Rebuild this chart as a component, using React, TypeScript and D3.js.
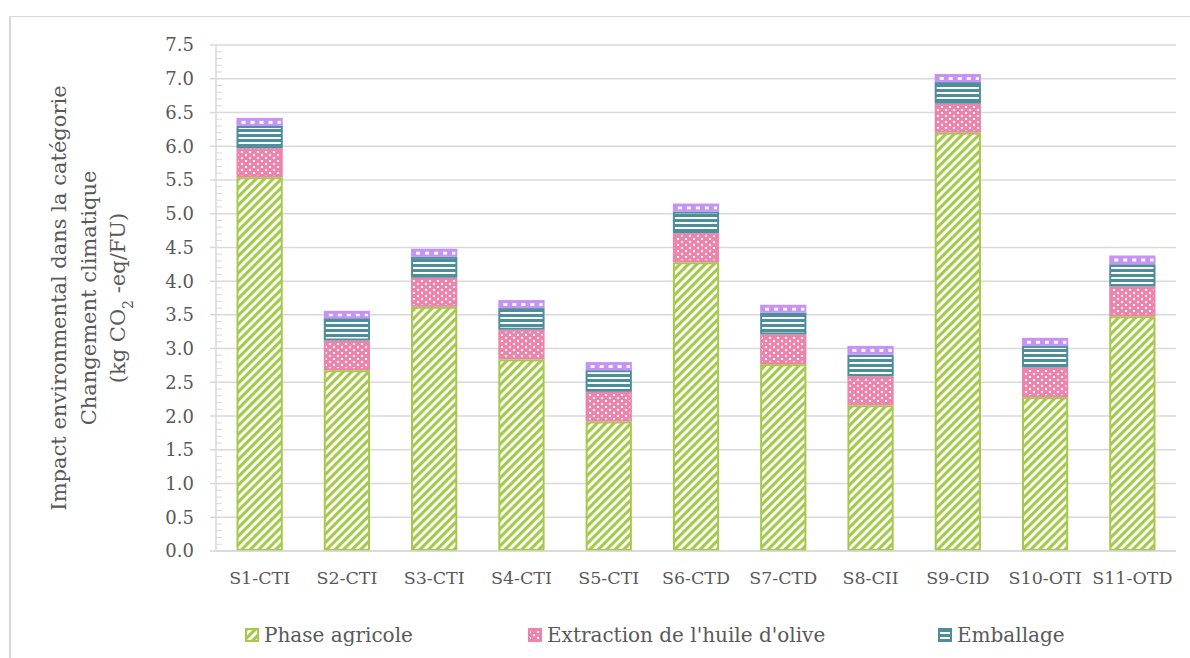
import React from "react";
import * as d3 from "d3";

const categories = ["S1-CTI", "S2-CTI", "S3-CTI", "S4-CTI", "S5-CTI", "S6-CTD", "S7-CTD", "S8-CII", "S9-CID", "S10-OTI", "S11-OTD"];
const phaseAgricole = [5.54, 2.68, 3.62, 2.84, 1.92, 4.28, 2.77, 2.16, 6.2, 2.28, 3.48];
const extraction = [0.43, 0.44, 0.43, 0.44, 0.44, 0.43, 0.44, 0.43, 0.43, 0.44, 0.44];
const emballage = [0.33, 0.33, 0.31, 0.32, 0.32, 0.32, 0.32, 0.32, 0.32, 0.32, 0.33];
const autre = [0.12, 0.11, 0.12, 0.12, 0.12, 0.12, 0.12, 0.13, 0.12, 0.12, 0.13];
const yTicks = ["0.0", "0.5", "1.0", "1.5", "2.0", "2.5", "3.0", "3.5", "4.0", "4.5", "5.0", "5.5", "6.0", "6.5", "7.0", "7.5"];
const legendNames = ["Phase agricole", "Extraction de l'huile d'olive", "Emballage"];

const colors = ["#a6c84c", "#ee83ab", "#4e8e9c", "#c693f5"];
const FONT = "'DejaVu Serif', serif";
const TEXT = "#595959";

export default function App() {
  const W = 1190, H = 658;
  const x0 = 216, x1 = 1176, yTop = 45, yBot = 551;
  const y = d3.scaleLinear().domain([0, 7.5]).range([yBot, yTop]);
  const x = d3.scaleBand<string>().domain(categories).range([x0, x1]).paddingInner(0.47).paddingOuter(0.235);

  const rows = categories.map((c, i) => ({ cat: c, s0: phaseAgricole[i], s1: extraction[i], s2: emballage[i], s3: autre[i] }));
  const stack = d3.stack<any>().keys(["s0", "s1", "s2", "s3"])(rows);

  const majors = yTicks.map(Number);
  const minors = d3.range(0, 75).map((k) => k / 10).filter((v) => Math.round(v * 10) % 5 !== 0);

  const patIds = ["patGreen", "patPink", "patTeal", "patPurple"];

  const legendX = [245, 528, 938];
  const legendY = 635;

  const purpleLayer = stack[3];

  return (
    <div style={{ position: "absolute", left: 0, top: 0, width: W, height: H }}>
      <svg width={W} height={H} style={{ display: "block", background: "#fff" }}>
        <defs>
          <pattern id="patGreen" patternUnits="userSpaceOnUse" width={6} height={6} patternTransform="rotate(45)">
            <rect width={6} height={6} fill="#fff" />
            <rect width={3.2} height={6} fill={colors[0]} />
          </pattern>
          <pattern id="patPink" patternUnits="userSpaceOnUse" width={8} height={6}>
            <rect width={8} height={6} fill={colors[1]} />
            <rect x={1} y={1} width={2} height={2} fill="#fff" />
            <rect x={5} y={4} width={2} height={2} fill="#fff" />
          </pattern>
          <pattern id="patTeal" patternUnits="userSpaceOnUse" width={6} height={5}>
            <rect width={6} height={5} fill={colors[2]} />
            <rect y={2} width={6} height={2} fill="#fff" />
          </pattern>
          {purpleLayer.map((d, i) => (
            <pattern key={"pp" + i} id={"patPurple" + i} patternUnits="userSpaceOnUse" width={9} height={40}
              x={(x(categories[i]) as number) + 2} y={y(d[1]) + 3}>
              <rect width={9} height={40} fill={colors[3]} />
              <rect x={3} y={0} width={4} height={3} fill="#fff" />
            </pattern>
          ))}
          <pattern id="patPurpleL" patternUnits="userSpaceOnUse" width={9} height={40} x={legendX[0]} y={legendY - 3}>
            <rect width={9} height={40} fill={colors[3]} />
          </pattern>
        </defs>

        {/* outer frame */}
        <line x1={10} x2={W} y1={16.5} y2={16.5} stroke="#d9d9d9" strokeWidth={1} />
        <line x1={10} x2={10} y1={16} y2={H} stroke="#d9d9d9" strokeWidth={2} />

        {/* gridlines */}
        {majors.map((v) => (
          <line key={"g" + v} x1={210} x2={x1} y1={y(v)} y2={y(v)} stroke="#d9d9d9" strokeWidth={1.5} />
        ))}
        {/* minor ticks */}
        {minors.map((v) => (
          <line key={"m" + v} x1={x0} x2={x0 + 6} y1={y(v)} y2={y(v)} stroke="#d9d9d9" strokeWidth={1} />
        ))}
        <line x1={x0} x2={x0} y1={yTop} y2={yBot} stroke="#d9d9d9" strokeWidth={1.5} />

        {/* bars */}
        {stack.map((layer, si) =>
          layer.map((d, i) => {
            const top = y(d[1]);
            const bot = y(d[0]);
            const fill = si === 3 ? `url(#patPurple${i})` : `url(#${patIds[si]})`;
            return (
              <rect
                key={si + "-" + i}
                x={(x(categories[i]) as number) + 1}
                y={top + 1}
                width={x.bandwidth() - 2}
                height={Math.max(0, bot - top - 2)}
                fill={fill}
                stroke={colors[si]}
                strokeWidth={2}
              />
            );
          })
        )}

        {/* baseline */}
        <line x1={x0} x2={x1} y1={yBot} y2={yBot} stroke="#d9d9d9" strokeWidth={1.5} />

        {/* y tick labels */}
        {yTicks.map((t) => (
          <text key={"t" + t} x={194} y={y(Number(t))} dy="0.36em" textAnchor="end" fontFamily={FONT} fontSize={18} fill={TEXT}>
            {t}
          </text>
        ))}

        {/* x labels */}
        {categories.map((c) => (
          <text key={"x" + c} x={(x(c) as number) + x.bandwidth() / 2} y={578} dy="0.36em" textAnchor="middle" fontFamily={FONT} fontSize={17.5} fill={TEXT}>
            {c}
          </text>
        ))}

        {/* y title */}
        <g transform={`translate(0, ${(yTop + yBot) / 2}) rotate(-90)`} fontFamily={FONT} fontSize={21} fill={TEXT} textAnchor="middle">
          <text x={0} y={58} dy="0.36em">Impact environmental dans la catégorie</text>
          <text x={0} y={88} dy="0.36em">Changement climatique</text>
          <text x={0} y={117} dy="0.36em">
            (kg CO<tspan baselineShift="sub" fontSize={14}>2</tspan> -eq/FU)
          </text>
        </g>

        {/* legend */}
        {legendNames.map((n, i) => (
          <g key={"l" + n}>
            <rect x={legendX[i] + 1} y={legendY - 6} width={12} height={12} fill={`url(#${patIds[i]})`} stroke={colors[i]} strokeWidth={2} />
            <text x={legendX[i] + 19} y={legendY} dy="0.36em" fontFamily={FONT} fontSize={20} fill={TEXT}>
              {n}
            </text>
          </g>
        ))}
      </svg>
    </div>
  );
}
